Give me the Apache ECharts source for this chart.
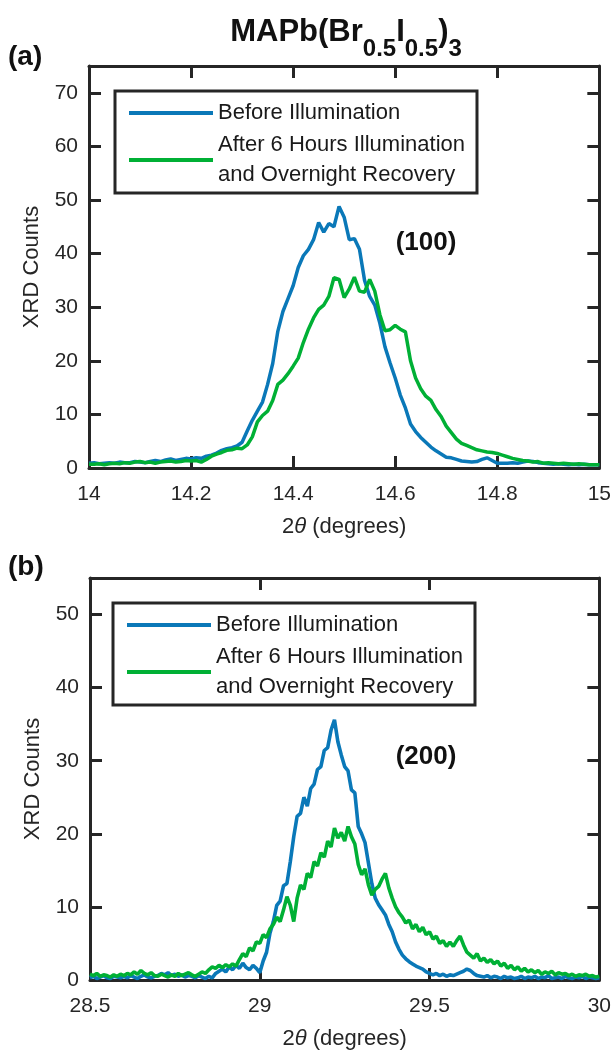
<!DOCTYPE html>
<html>
<head>
<meta charset="UTF-8">
<title>XRD MAPb(Br0.5I0.5)3</title>
<style>
body{margin:0;background:#fff;}
#picContainer{width:614px;height:1052px;}
</style>
</head>
<body>
<div id="picContainer"></div>
<script src="https://cdn.jsdelivr.net/npm/echarts@6/dist/echarts.min.js"></script>
<script>
// panel (a): (100) peak
var xA = [
    14.00,14.01,14.02,14.03,14.04,14.05,14.06,14.07,14.08,14.09,
    14.10,14.11,14.12,14.13,14.14,14.15,14.16,14.17,14.18,14.19,
    14.20,14.21,14.22,14.23,14.24,14.25,14.26,14.27,14.28,14.29,
    14.30,14.31,14.32,14.33,14.34,14.35,14.36,14.37,14.38,14.39,
    14.40,14.41,14.42,14.43,14.44,14.45,14.46,14.47,14.48,14.49,
    14.50,14.51,14.52,14.53,14.54,14.55,14.56,14.57,14.58,14.59,
    14.60,14.61,14.62,14.63,14.64,14.65,14.66,14.67,14.68,14.69,
    14.70,14.71,14.72,14.73,14.74,14.75,14.76,14.77,14.78,14.79,
    14.80,14.81,14.82,14.83,14.84,14.85,14.86,14.87,14.88,14.89,
    14.90,14.91,14.92,14.93,14.94,14.95,14.96,14.97,14.98,14.99,
    15.00
];
var beforeA = [
    0.9,1.0,0.8,0.9,1.0,0.9,1.1,1.0,1.0,1.2,
    1.1,1.0,1.2,1.4,1.2,1.5,1.7,1.4,1.6,1.8,
    1.7,1.9,1.8,2.2,2.4,2.8,3.3,3.6,3.8,4.1,
    4.8,6.9,8.9,10.6,12.3,15.6,19.5,25.5,29.2,31.6,
    34.0,37.4,39.6,40.8,42.6,45.8,44.0,45.6,45.0,48.8,
    46.8,42.6,42.8,40.8,35.0,32.0,30.4,27.0,22.6,19.6,
    16.8,13.6,11.2,8.2,6.8,5.7,4.8,3.9,3.2,2.6,
    2.0,1.9,1.6,1.3,1.2,1.1,1.2,1.6,1.9,1.4,
    0.9,0.9,0.9,1.0,0.9,1.1,1.3,1.2,1.0,0.9,
    0.8,0.7,0.8,0.7,0.6,0.7,0.6,0.7,0.6,0.6,
    0.6
];
var afterA = [
    0.7,0.7,0.8,0.6,0.8,0.9,0.8,1.0,0.9,1.1,
    1.2,1.0,1.1,0.9,1.1,1.2,1.3,1.1,1.2,1.4,
    1.3,1.4,1.1,1.6,2.2,2.6,2.9,3.3,3.4,3.7,
    3.6,4.3,5.8,8.6,9.8,10.6,12.6,15.6,16.4,17.6,
    19.0,20.5,23.4,25.9,28.0,29.6,30.4,32.0,35.5,35.2,
    31.8,33.4,35.6,33.0,32.8,35.2,33.0,28.6,25.6,25.8,
    26.6,25.9,25.4,20.0,16.8,14.8,13.4,12.6,10.9,9.6,
    7.8,6.6,5.4,4.6,4.2,3.8,3.4,3.2,3.0,2.9,
    2.7,2.4,2.1,1.8,1.6,1.4,1.3,1.1,1.2,0.9,
    1.0,0.9,0.8,0.9,0.8,0.7,0.8,0.7,0.6,0.6,
    0.6
];

// panel (b): (200) peak
var xB = [
    28.50,28.51,28.52,28.53,28.54,28.55,28.56,28.57,28.58,28.59,
    28.60,28.61,28.62,28.63,28.64,28.65,28.66,28.67,28.68,28.69,
    28.70,28.71,28.72,28.73,28.74,28.75,28.76,28.77,28.78,28.79,
    28.80,28.81,28.82,28.83,28.84,28.85,28.86,28.87,28.88,28.89,
    28.90,28.91,28.92,28.93,28.94,28.95,28.96,28.97,28.98,28.99,
    29.00,29.01,29.02,29.03,29.04,29.05,29.06,29.07,29.08,29.09,
    29.10,29.11,29.12,29.13,29.14,29.15,29.16,29.17,29.18,29.19,
    29.20,29.21,29.22,29.23,29.24,29.25,29.26,29.27,29.28,29.29,
    29.30,29.31,29.32,29.33,29.34,29.35,29.36,29.37,29.38,29.39,
    29.40,29.41,29.42,29.43,29.44,29.45,29.46,29.47,29.48,29.49,
    29.50,29.51,29.52,29.53,29.54,29.55,29.56,29.57,29.58,29.59,
    29.60,29.61,29.62,29.63,29.64,29.65,29.66,29.67,29.68,29.69,
    29.70,29.71,29.72,29.73,29.74,29.75,29.76,29.77,29.78,29.79,
    29.80,29.81,29.82,29.83,29.84,29.85,29.86,29.87,29.88,29.89,
    29.90,29.91,29.92,29.93,29.94,29.95,29.96,29.97,29.98,29.99,
    30.00
];
var beforeB = [
    0.3,0.5,0.2,0.4,0.6,0.3,0.2,0.5,0.4,0.3,
    0.5,0.3,0.6,0.4,0.2,0.5,0.7,0.4,0.3,0.5,
    0.6,0.9,0.7,1.0,0.6,0.8,0.5,0.7,0.4,0.6,
    0.5,0.3,0.6,0.4,0.2,0.5,0.3,0.9,1.2,1.5,
    1.1,1.8,1.4,2.0,1.6,2.3,1.7,1.4,2.0,1.6,
    1.0,2.6,3.8,6.4,8.0,10.2,10.8,12.9,13.2,16.2,
    19.6,22.4,22.8,25.0,23.8,26.2,26.8,28.8,29.2,31.4,
    31.8,34.2,35.6,32.6,30.8,29.2,28.6,26.0,25.6,21.0,
    20.0,18.8,16.0,13.2,11.2,10.3,9.6,8.9,7.6,6.6,
    5.2,4.2,3.4,2.9,2.5,2.2,1.9,1.7,1.5,1.1,
    0.9,0.7,0.9,0.6,0.8,0.5,0.7,0.6,0.8,1.0,
    1.2,1.5,1.3,0.9,0.6,0.5,0.4,0.6,0.3,0.5,
    0.4,0.2,0.5,0.3,0.4,0.2,0.3,0.5,0.2,0.4,
    0.3,0.5,0.2,0.4,0.3,0.6,0.2,0.3,0.4,0.2,
    0.5,0.3,0.2,0.4,0.3,0.5,0.2,0.4,0.3,0.2,
    0.3
];
var afterB = [
    0.8,0.6,0.9,0.5,0.7,0.6,0.4,0.7,0.5,0.8,
    0.6,0.9,0.7,1.1,0.8,1.3,0.9,0.7,1.0,0.6,
    0.5,0.8,0.6,0.4,0.7,0.5,0.9,0.6,0.8,1.0,
    0.7,0.5,0.8,1.1,0.9,1.4,1.8,1.6,2.0,1.7,
    2.1,1.8,2.2,1.9,2.8,3.6,3.2,4.4,4.0,5.2,
    5.0,6.2,5.8,7.0,7.6,8.6,8.0,9.6,11.4,10.2,
    8.0,11.2,13.0,12.4,14.6,14.0,16.2,15.6,17.4,16.8,
    19.0,18.2,20.8,19.4,20.2,19.0,21.0,19.6,18.6,15.8,
    14.4,15.2,13.0,11.6,12.4,12.8,13.8,14.6,12.6,11.2,
    10.0,9.2,8.6,7.8,8.2,7.0,7.6,6.6,7.2,6.2,
    6.6,5.6,6.0,5.0,5.4,4.6,5.2,4.6,5.4,6.0,
    4.8,3.8,3.4,3.0,3.6,2.6,3.0,2.4,2.8,2.2,
    2.6,1.9,2.3,1.6,2.0,1.4,1.8,1.2,1.6,1.1,
    1.4,1.0,1.3,0.8,1.1,0.9,1.2,0.7,1.0,0.8,
    0.9,0.6,0.8,0.5,0.7,0.6,0.8,0.5,0.6,0.4,
    0.5
];

var xTicksA = [14, 14.2, 14.4, 14.6, 14.8, 15];
var xTicksB = [28.5, 29, 29.5, 30];
var yTicksA = [0, 10, 20, 30, 40, 50, 60, 70];
var yTicksB = [0, 10, 20, 30, 40, 50];
var yMaxA = 75;
var yMaxB = 55;
var seriesNames = ['Before Illumination', 'After 6 Hours Illumination\nand Overnight Recovery'];

main();
function main(){
    var ink = '#262626';
    var font = 'Liberation Sans, Arial, Helvetica, sans-serif';
    var blue = '#0A78B8';
    var green = '#00B035';

    function pairs(xs, ys){
        var out = [];
        for (var i = 0; i < xs.length; i++) out.push([xs[i], ys[i]]);
        return out;
    }
    function xAxisOf(grid, ticks, pos){
        var bottom = pos === 'bottom';
        return {
            type: 'value', gridIndex: grid, position: pos,
            min: ticks[0], max: ticks[ticks.length - 1],
            axisLine: {show: true, onZero: false, lineStyle: {color: ink, width: 3}},
            axisTick: {show: true, inside: true, length: 12, customValues: ticks, lineStyle: {color: ink, width: 3}},
            axisLabel: {show: bottom, customValues: ticks, margin: 16, fontSize: 21, color: ink, fontFamily: font},
            splitLine: {show: false},
            name: bottom ? '2{i|θ} (degrees)' : '',
            nameLocation: 'middle', nameGap: 48,
            nameTextStyle: {fontSize: 22, color: ink, fontFamily: font,
                rich: {i: {fontSize: 22, color: ink, fontFamily: font, fontStyle: 'italic'}}}
        };
    }
    function yAxisOf(grid, ticks, max, pos){
        var left = pos === 'left';
        return {
            type: 'value', gridIndex: grid, position: pos,
            min: 0, max: max,
            axisLine: {show: true, onZero: false, lineStyle: {color: ink, width: 3}},
            axisTick: {show: true, inside: true, length: 12, customValues: ticks, lineStyle: {color: ink, width: 3}},
            axisLabel: {show: left, customValues: ticks, margin: 11, fontSize: 21, color: ink, fontFamily: font},
            splitLine: {show: false},
            name: left ? 'XRD Counts' : '',
            nameLocation: 'middle', nameGap: 46,
            nameTextStyle: {fontSize: 22, color: ink, fontFamily: font}
        };
    }
    function legendAt(left, top){
        return {
            data: seriesNames, left: left, top: top, orient: 'vertical',
            icon: 'rect', itemWidth: 84, itemHeight: 4, itemGap: 2,
            padding: [7, 12, 3, 14],
            borderColor: ink, borderWidth: 3,
            selectedMode: false,
            textStyle: {fontSize: 22, lineHeight: 30, color: '#1a1a1a', fontFamily: font}
        };
    }
    function lineOf(name, xi, data, color, w){
        return {
            type: 'line', name: name, xAxisIndex: xi, yAxisIndex: xi,
            data: data, symbol: 'none', showSymbol: false,
            lineStyle: {color: color, width: w}, itemStyle: {color: color}
        };
    }

    var myChart = echarts.init(document.getElementById('picContainer'));
    var option = {
        animation: false,
        backgroundColor: '#fff',
        grid: [
            {left: 89, top: 66, width: 512, height: 402},
            {left: 90, top: 578, width: 512, height: 402}
        ],
        xAxis: [
            xAxisOf(0, xTicksA, 'bottom'), xAxisOf(0, xTicksA, 'top'),
            xAxisOf(1, xTicksB, 'bottom'), xAxisOf(1, xTicksB, 'top')
        ],
        yAxis: [
            yAxisOf(0, yTicksA, yMaxA, 'left'), yAxisOf(0, yTicksA, yMaxA, 'right'),
            yAxisOf(1, yTicksB, yMaxB, 'left'), yAxisOf(1, yTicksB, yMaxB, 'right')
        ],
        legend: [legendAt(115, 91), legendAt(113, 603)],
        series: [
            lineOf(seriesNames[0], 0, pairs(xA, beforeA), blue, 3.5),
            lineOf(seriesNames[1], 0, pairs(xA, afterA), green, 3.5),
            lineOf(seriesNames[0], 2, pairs(xB, beforeB), blue, 3.6),
            lineOf(seriesNames[1], 2, pairs(xB, afterB), green, 3.6)
        ],
        graphic: [
            {type: 'text', x: 346, y: 32, style: {
                text: 'MAPb(Br{s|0.5}I{s|0.5}){s|3}',
                fontFamily: font, fontWeight: 'bold', fontSize: 31, fill: '#111',
                align: 'center', verticalAlign: 'middle',
                rich: {s: {fontFamily: font, fontWeight: 'bold', fontSize: 24, fill: '#111', padding: [34, 0, 0, 0]}}
            }},
            {type: 'text', x: 8, y: 57, style: {text: '(a)', fontFamily: font, fontWeight: 'bold', fontSize: 28, fill: '#111', verticalAlign: 'middle'}},
            {type: 'text', x: 8, y: 567, style: {text: '(b)', fontFamily: font, fontWeight: 'bold', fontSize: 28, fill: '#111', verticalAlign: 'middle'}},
            {type: 'text', x: 426, y: 243, style: {text: '(100)', fontFamily: font, fontWeight: 'bold', fontSize: 26, fill: '#111', align: 'center', verticalAlign: 'middle'}},
            {type: 'text', x: 426, y: 757, style: {text: '(200)', fontFamily: font, fontWeight: 'bold', fontSize: 26, fill: '#111', align: 'center', verticalAlign: 'middle'}}
        ]
    };
    myChart.setOption(option);
}
</script>
</body>
</html>
